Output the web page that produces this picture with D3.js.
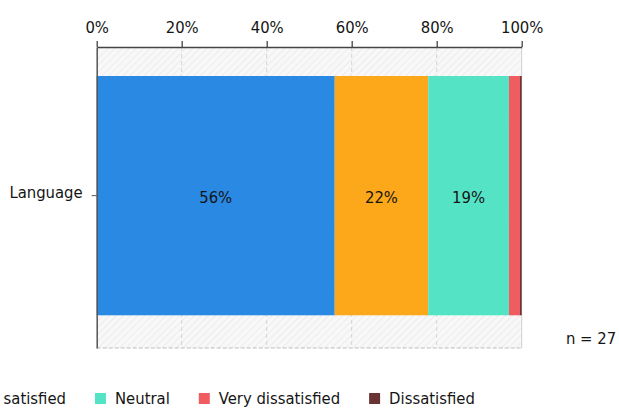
<!DOCTYPE html>
<html>
<head>
<meta charset="utf-8">
<script src="https://cdn.jsdelivr.net/npm/d3@7"></script>
<style>
  html, body { margin: 0; padding: 0; background: #fff; }
  svg { display: block; font-family: "DejaVu Sans Condensed", "DejaVu Sans", sans-serif; }
</style>
</head>
<body>
<svg id="chart" width="619" height="410"></svg>
<script>
// Survey question and response categories
const questions = ["Language"];
const categories = ["Satisfied", "Very satisfied", "Neutral", "Very dissatisfied", "Dissatisfied"];
const colors = ["#2a89e2", "#fca81a", "#55e3c6", "#ef5d60", "#6b3434"];
// Share of respondents (%) per category for "Language"
const shares = [56, 22, 19, 2.6, 0.4];
const shownLabels = ["56%", "22%", "19%", "", ""];
const tickValues = [0, 20, 40, 60, 80, 100];
const sampleSize = 27;

const svg = d3.select("#chart");
const textColor = "#151515";
const fontSize = 16.5;

const x = d3.scaleLinear().domain([0, 100]).range([96.7, 521.7]);
const y = d3.scaleBand().domain(questions).range([47, 348])
  .paddingInner(0.205).paddingOuter(0.1025).align(0.47);

// Hatched plot background
const defs = svg.append("defs");
const pat = defs.append("pattern")
  .attr("id", "hatch").attr("patternUnits", "userSpaceOnUse")
  .attr("width", 5).attr("height", 5)
  .attr("patternTransform", "rotate(45)");
pat.append("rect").attr("width", 5).attr("height", 5).attr("fill", "#f8f8f8");
pat.append("line").attr("x1", 0).attr("y1", 0).attr("x2", 0).attr("y2", 5)
  .attr("stroke", "#e9e9e9").attr("stroke-width", 1.6);

const [y0, y1] = y.range();
svg.append("rect")
  .attr("x", x(0)).attr("y", y0)
  .attr("width", x(100) - x(0)).attr("height", y1 - y0)
  .attr("fill", "url(#hatch)");

// Vertical dashed gridlines
svg.append("g").selectAll("line")
  .data(tickValues.slice(1, -1))
  .join("line")
  .attr("x1", d => x(d)).attr("x2", d => x(d))
  .attr("y1", y0).attr("y2", y1)
  .attr("stroke", "#d4d4d4").attr("stroke-width", 1)
  .attr("stroke-dasharray", "4,3");

// Right and bottom frame
svg.append("line")
  .attr("x1", x(100)).attr("x2", x(100)).attr("y1", y0).attr("y2", y1)
  .attr("stroke", "#d0d0d0");
svg.append("line")
  .attr("x1", x(0)).attr("x2", x(100)).attr("y1", y1).attr("y2", y1)
  .attr("stroke", "#bdbdbd").attr("stroke-dasharray", "4,2");

// Stacked segments
const stackData = [];
let acc = 0;
shares.forEach((v, i) => {
  stackData.push({ cat: categories[i], start: acc, end: acc + v, color: colors[i], label: shownLabels[i] });
  acc += v;
});

const q = questions[0];
svg.append("g").selectAll("rect")
  .data(stackData)
  .join("rect")
  .attr("x", d => x(d.start))
  .attr("y", y(q))
  .attr("width", d => x(d.end) - x(d.start))
  .attr("height", y.bandwidth())
  .attr("fill", d => d.color);

svg.append("g").selectAll("text")
  .data(stackData.filter(d => d.label))
  .join("text")
  .attr("x", d => (x(d.start) + x(d.end)) / 2)
  .attr("y", y(q) + y.bandwidth() / 2)
  .attr("dy", "0.42em")
  .attr("text-anchor", "middle")
  .attr("font-size", fontSize)
  .attr("fill", textColor)
  .text(d => d.label);

// Top percentage axis
const xAxis = svg.append("g")
  .attr("transform", `translate(0,${y0})`)
  .call(d3.axisTop(x).tickValues(tickValues).tickFormat(d => d + "%").tickSize(6).tickPadding(8).tickSizeOuter(0));
xAxis.select(".domain").attr("stroke", "#444").attr("stroke-width", 1.3);
xAxis.selectAll(".tick line").attr("stroke", "#444").attr("stroke-width", 1.3);
xAxis.selectAll(".tick text").attr("font-size", fontSize).attr("fill", textColor)
  .attr("font-family", "DejaVu Sans Condensed, DejaVu Sans, sans-serif");

// Left category axis
const yAxis = svg.append("g")
  .attr("transform", `translate(${x(0)},0)`)
  .call(d3.axisLeft(y).tickSize(5).tickPadding(9).tickSizeOuter(0));
yAxis.select(".domain").attr("stroke", "#555").attr("stroke-width", 1.5);
yAxis.selectAll(".tick line").attr("stroke", "#555");
yAxis.selectAll(".tick text").attr("font-size", fontSize).attr("fill", textColor)
  .attr("dy", "0.12em")
  .attr("font-family", "DejaVu Sans Condensed, DejaVu Sans, sans-serif");

// Sample size note
svg.append("text")
  .attr("x", 566).attr("y", 338).attr("dy", "0.35em")
  .attr("font-size", fontSize).attr("fill", textColor)
  .text(`n = ${sampleSize}`);

// Legend, laid out in a single row
const legend = svg.append("g");
const sq = 11, gapText = 9, gapItem = 29;
let lx = 0;
const items = categories.map((c, i) => {
  const g = legend.append("g");
  g.append("rect").attr("x", 0).attr("y", -sq / 2).attr("width", sq).attr("height", sq)
    .attr("fill", colors[i]);
  const t = g.append("text").attr("x", sq + gapText).attr("dy", "0.35em")
    .attr("font-size", fontSize).attr("fill", textColor).text(c);
  const w = t.node().getComputedTextLength();
  g.attr("transform", `translate(${lx},0)`);
  const pos = lx;
  lx += sq + gapText + w + gapItem;
  return pos;
});
// Row is anchored so that the "Neutral" swatch sits at x = 95
legend.attr("transform", `translate(${95 - items[2]},398.5)`);
</script>
</body>
</html>
